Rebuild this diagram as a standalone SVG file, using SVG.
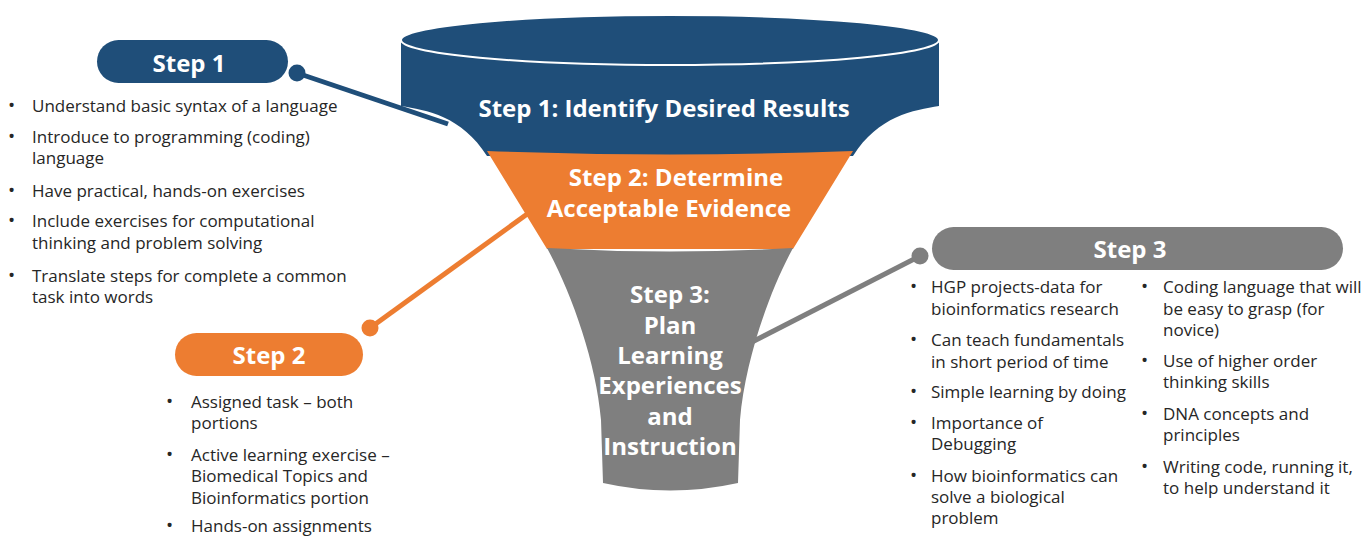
<svg xmlns="http://www.w3.org/2000/svg" width="1369" height="536" viewBox="0 0 1369 536">
  <style>
    .blue { fill: #1F4E79; }
    .orange { fill: #ED7D31; }
    .gray { fill: #7F7F7F; }
    .title { font-family: "Open Sans", "Noto Sans", sans-serif; font-weight: 700; fill: #FFFFFF; text-anchor: middle; }
    .pill { font-family: "Open Sans", "Noto Sans", sans-serif; font-weight: 700; font-size: 24px; fill: #FFFFFF; text-anchor: middle; }
    .body { font-family: "Open Sans", "Noto Sans", sans-serif; font-size: 17px; fill: #262626; }
    .dot { font-family: "Open Sans", "Noto Sans", sans-serif; font-size: 19px; fill: #262626; }
  </style>

  <!-- connectors: pill knob to funnel stage -->
  <g id="connectors">
    <line x1="297" y1="73" x2="448" y2="124" stroke="#1F4E79" stroke-width="5"/>
    <circle cx="297" cy="73" r="8.5" class="blue"/>
    <line x1="370" y1="328" x2="530" y2="212" stroke="#ED7D31" stroke-width="5"/>
    <circle cx="370" cy="328" r="8.5" class="orange"/>
    <line x1="920" y1="256" x2="752" y2="342" stroke="#7F7F7F" stroke-width="5"/>
    <circle cx="920" cy="256" r="8.5" class="gray"/>
  </g>

  <!-- funnel stage 1 -->
  <g id="stage1">
    <path class="blue" d="M401,40 V106 C426,110 462,116 487,156 L853,156 C878,116 914,110 939,106 V40 Z"/>
    <ellipse cx="670" cy="40" rx="269" ry="25" class="blue" stroke="#FFFFFF" stroke-width="2"/>
    <text class="title" x="664" y="117" font-size="24">Step 1: Identify Desired Results</text>
  </g>

  <!-- funnel stage 2 -->
  <g id="stage2">
    <path class="orange" d="M487,151 Q670,158 853,151 L793,249 L547,249 Z"/>
    <text class="title" x="676" y="186" font-size="24">Step 2: Determine</text>
    <text class="title" x="669" y="217" font-size="24">Acceptable Evidence</text>
  </g>

  <!-- funnel stage 3 -->
  <g id="stage3">
    <path class="gray" d="M547,248 Q670,255 793,248 C770,290 745,360 740,420 L738,483 Q670,498 603,483 L601,420 C596,360 570,290 547,248 Z"/>
    <text class="title" font-size="24" x="670" y="303">Step 3:</text>
    <text class="title" font-size="24" x="670" y="334">Plan</text>
    <text class="title" font-size="24" x="670" y="364">Learning</text>
    <text class="title" font-size="24" x="670" y="394">Experiences</text>
    <text class="title" font-size="24" x="670" y="425">and</text>
    <text class="title" font-size="24" x="670" y="455">Instruction</text>
  </g>

  <!-- step 1 label and notes -->
  <g id="step1">
    <rect x="97" y="40" width="191" height="43" rx="21.5" class="blue"/>
    <text class="pill" x="189" y="72">Step 1</text>
    <g class="dot">
      <text x="8" y="112">•</text>
      <text x="8" y="143">•</text>
      <text x="8" y="197">•</text>
      <text x="8" y="227">•</text>
      <text x="8" y="282">•</text>
    </g>
    <text class="body">
      <tspan x="32" y="112">Understand basic syntax of a language</tspan>
      <tspan x="32" y="143">Introduce to programming (coding)</tspan>
      <tspan x="32" y="164">language</tspan>
      <tspan x="32" y="197">Have practical, hands-on exercises</tspan>
      <tspan x="32" y="227">Include exercises for computational</tspan>
      <tspan x="32" y="249">thinking and problem solving</tspan>
      <tspan x="32" y="282">Translate steps for complete a common</tspan>
      <tspan x="32" y="303">task into words</tspan>
    </text>
  </g>

  <!-- step 2 label and notes -->
  <g id="step2">
    <rect x="175" y="333" width="188" height="43" rx="21.5" class="orange"/>
    <text class="pill" x="269" y="364">Step 2</text>
    <g class="dot">
      <text x="166" y="408">•</text>
      <text x="166" y="461">•</text>
      <text x="166" y="532">•</text>
    </g>
    <text class="body">
      <tspan x="191" y="408">Assigned task – both</tspan>
      <tspan x="191" y="429">portions</tspan>
      <tspan x="191" y="461">Active learning exercise –</tspan>
      <tspan x="191" y="482">Biomedical Topics and</tspan>
      <tspan x="191" y="504">Bioinformatics portion</tspan>
      <tspan x="191" y="532">Hands-on assignments</tspan>
    </text>
  </g>

  <!-- step 3 label and notes -->
  <g id="step3">
    <rect x="932" y="227" width="411" height="43" rx="21.5" class="gray"/>
    <text class="pill" x="1130" y="258">Step 3</text>
    <g class="dot">
      <text x="910" y="293">•</text>
      <text x="910" y="346">•</text>
      <text x="910" y="398">•</text>
      <text x="910" y="429">•</text>
      <text x="910" y="482">•</text>
      <text x="1141" y="293">•</text>
      <text x="1141" y="367">•</text>
      <text x="1141" y="420">•</text>
      <text x="1141" y="473">•</text>
    </g>
    <text class="body">
      <tspan x="931" y="293">HGP projects-data for</tspan>
      <tspan x="931" y="315">bioinformatics research</tspan>
      <tspan x="931" y="346">Can teach fundamentals</tspan>
      <tspan x="931" y="368">in short period of time</tspan>
      <tspan x="931" y="398">Simple learning by doing</tspan>
      <tspan x="931" y="429">Importance of</tspan>
      <tspan x="931" y="450">Debugging</tspan>
      <tspan x="931" y="482">How bioinformatics can</tspan>
      <tspan x="931" y="503">solve a biological</tspan>
      <tspan x="931" y="524">problem</tspan>
    </text>
    <text class="body">
      <tspan x="1163" y="293">Coding language that will</tspan>
      <tspan x="1163" y="315">be easy to grasp (for</tspan>
      <tspan x="1163" y="336">novice)</tspan>
      <tspan x="1163" y="367">Use of higher order</tspan>
      <tspan x="1163" y="388">thinking skills</tspan>
      <tspan x="1163" y="420">DNA concepts and</tspan>
      <tspan x="1163" y="441">principles</tspan>
      <tspan x="1163" y="473">Writing code, running it,</tspan>
      <tspan x="1163" y="494">to help understand it</tspan>
    </text>
  </g>
</svg>
